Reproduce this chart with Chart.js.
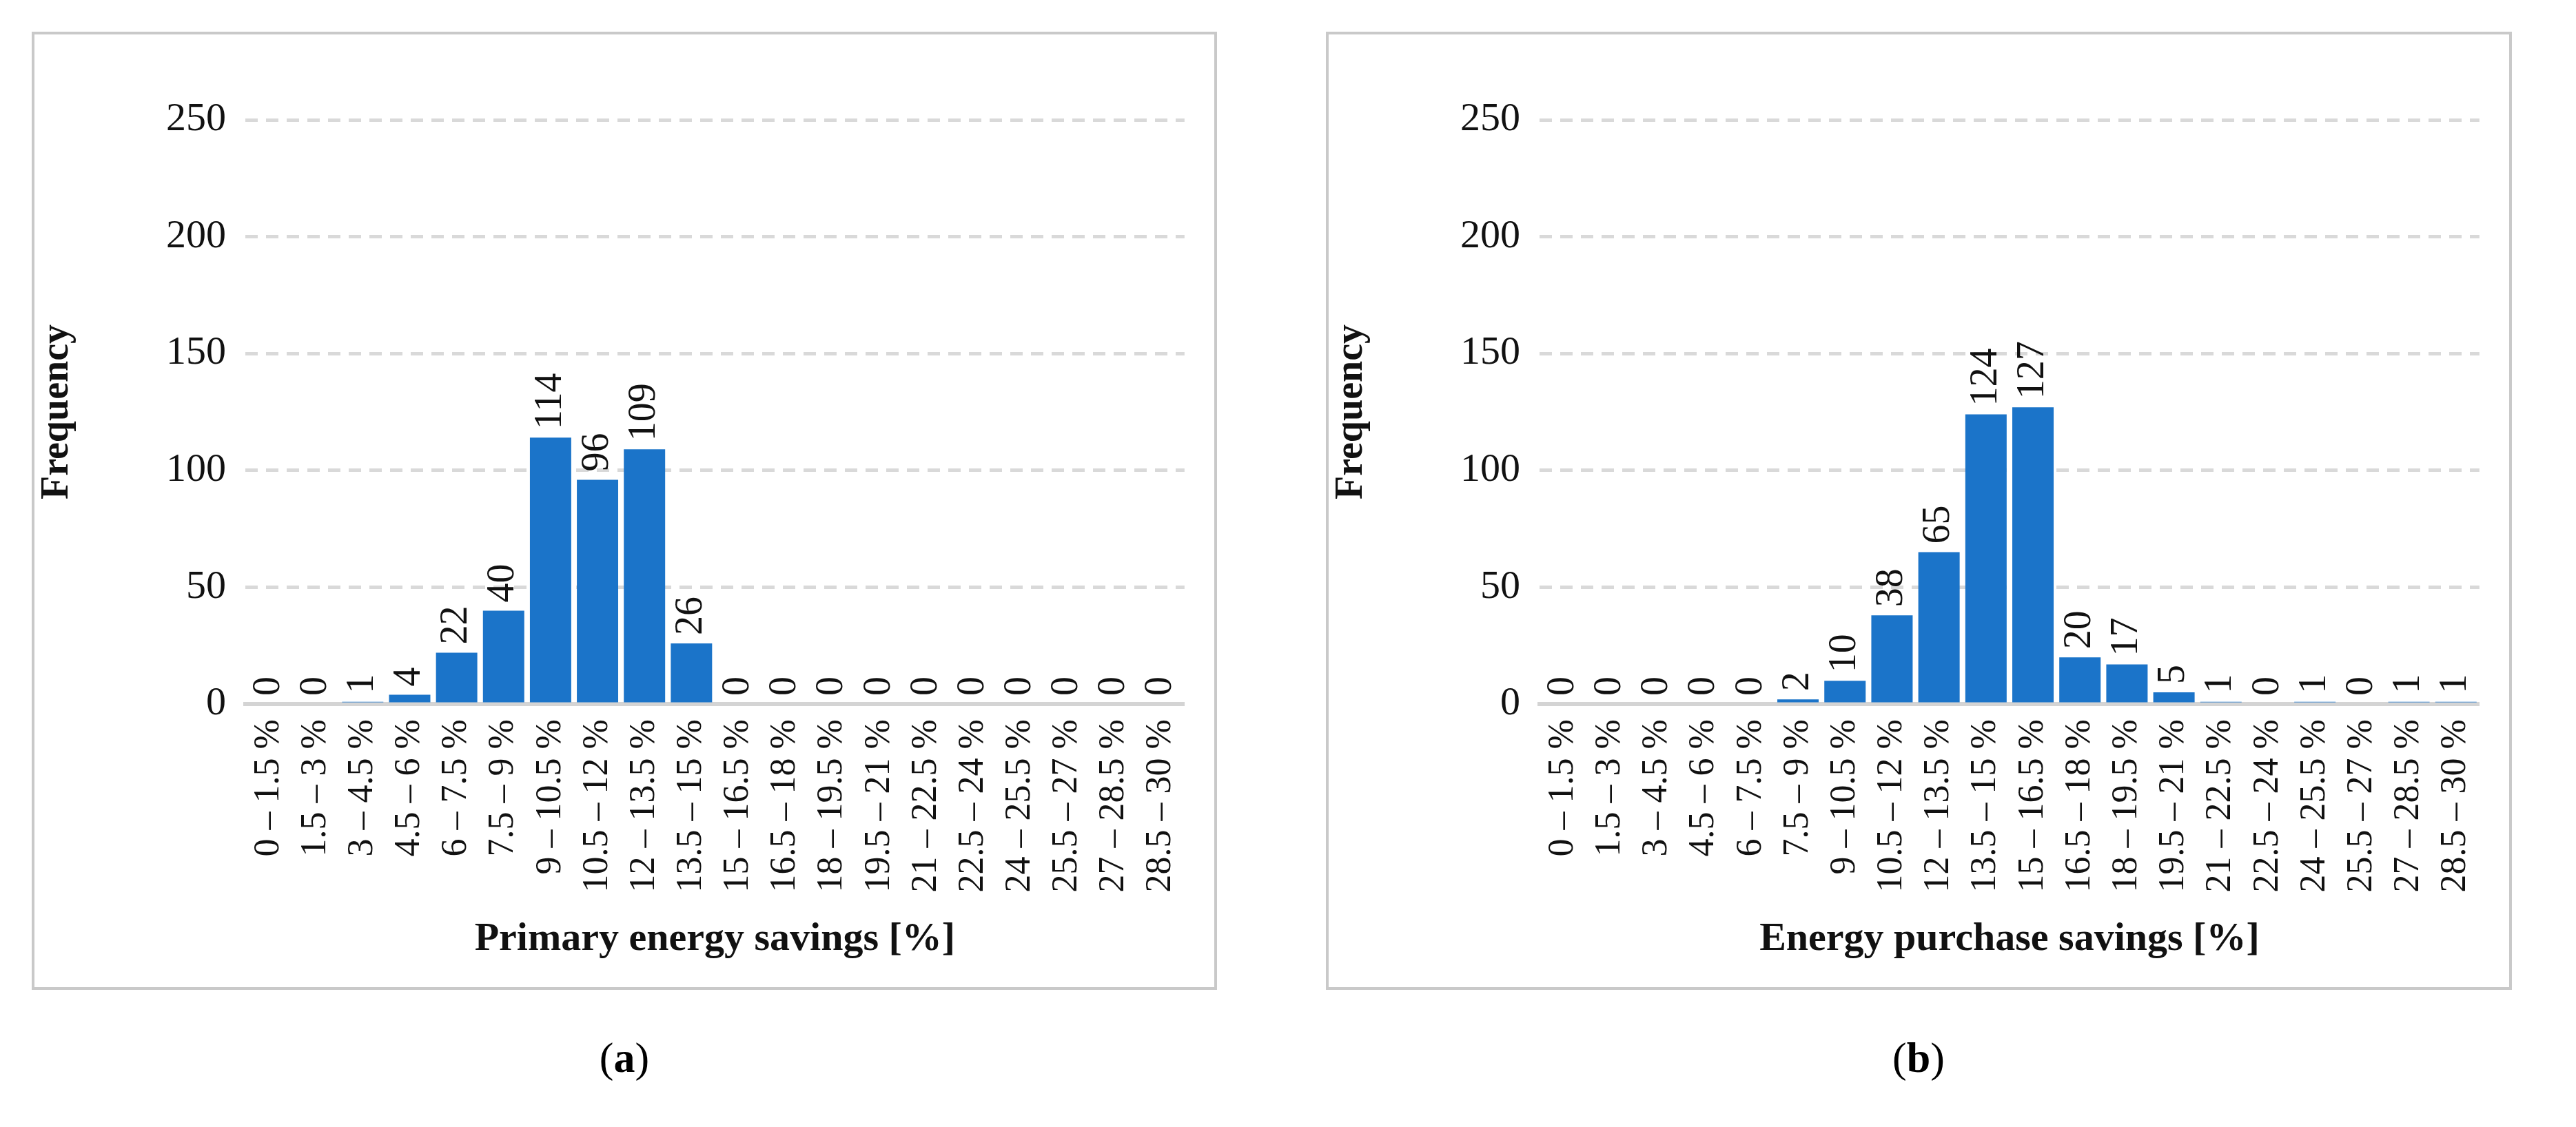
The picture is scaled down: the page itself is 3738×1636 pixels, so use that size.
<!DOCTYPE html>
<html><head><meta charset="utf-8">
<script src="https://cdn.jsdelivr.net/npm/chart.js@4/dist/chart.umd.min.js"></script>
<style>
body{margin:0;background:#fff;width:3738px;height:1636px;position:relative;overflow:hidden;font-family:"Liberation Serif",serif}
.frame{position:absolute;border:4px solid #c9c9c9;box-sizing:border-box}
.cap{position:absolute;font-size:62px;text-align:center;width:400px}
</style></head><body>
<div class="frame" style="left:46px;top:46px;width:1720px;height:1391px"><canvas id="a"></canvas></div>
<div class="frame" style="left:1924px;top:46px;width:1721px;height:1391px"><canvas id="b"></canvas></div>
<div class="cap" style="left:706px;top:1500px">(<b>a</b>)</div>
<div class="cap" style="left:2584px;top:1500px">(<b>b</b>)</div>
<script>
const categories=["0 – 1.5 %","1.5 – 3 %","3 – 4.5 %","4.5 – 6 %","6 – 7.5 %","7.5 – 9 %","9 – 10.5 %","10.5 – 12 %","12 – 13.5 %","13.5 – 15 %","15 – 16.5 %","16.5 – 18 %","18 – 19.5 %","19.5 – 21 %","21 – 22.5 %","22.5 – 24 %","24 – 25.5 %","25.5 – 27 %","27 – 28.5 %","28.5 – 30 %"];
const primarySavings=[0,0,1,4,22,40,114,96,109,26,0,0,0,0,0,0,0,0,0,0];
const purchaseSavings=[0,0,0,0,0,2,10,38,65,124,127,20,17,5,1,0,1,0,1,1];
const yTicks=[0,50,100,150,200,250];
const FONT="'Liberation Serif', serif";
const labelPlugin={id:'lbl',afterDatasetsDraw(c){
  const ctx=c.ctx,m=c.getDatasetMeta(0);
  ctx.save();ctx.font="56px "+FONT;ctx.fillStyle="#111";ctx.textBaseline="middle";ctx.textAlign="left";
  m.data.forEach((bar,i)=>{const v=c.data.datasets[0].data[i];
    ctx.save();ctx.translate(bar.x,bar.y-12);ctx.rotate(-Math.PI/2);ctx.fillText(String(v),0,0);ctx.restore();});
  ctx.restore();}};
function make(id,data,title,w){
  const cv=document.getElementById(id);cv.width=w;cv.height=1383;
  cv.style.width=w+'px';cv.style.height='1383px';
  new Chart(cv,{type:'bar',data:{labels:categories,datasets:[{data:data,backgroundColor:'#1b74c9',categoryPercentage:0.88,barPercentage:1}]},
  options:{responsive:false,animation:false,devicePixelRatio:1,
   layout:{padding:{top:124,right:34,left:0,bottom:30}},
   plugins:{legend:{display:false},tooltip:{enabled:false}},
   scales:{
    y:{min:0,max:250,afterBuildTicks(s){s.ticks=yTicks.map(v=>({value:v}));},
      afterFit(s){s.width=306;},
      border:{display:false,dash:[18,12]},
      grid:{color:'#d9d9d9',lineWidth:5,drawTicks:false,tickLength:0},
      ticks:{font:{family:FONT,size:58},color:'#111',padding:28},
      title:{display:true,text:'Frequency',font:{family:FONT,size:56,weight:'bold'},color:'#111',padding:0}},
    x:{grid:{display:false},border:{color:'#d4d4d4',width:6},
      ticks:{font:{family:FONT,size:52},color:'#111',maxRotation:90,minRotation:90,padding:14,autoSkip:false},
      title:{display:true,text:title,font:{family:FONT,size:58,weight:'bold'},color:'#111',padding:{top:20}}}
   }},plugins:[labelPlugin]});
}
make('a',primarySavings,'Primary energy savings [%]',1712);
make('b',purchaseSavings,'Energy purchase savings [%]',1713);
</script>
</body></html>
